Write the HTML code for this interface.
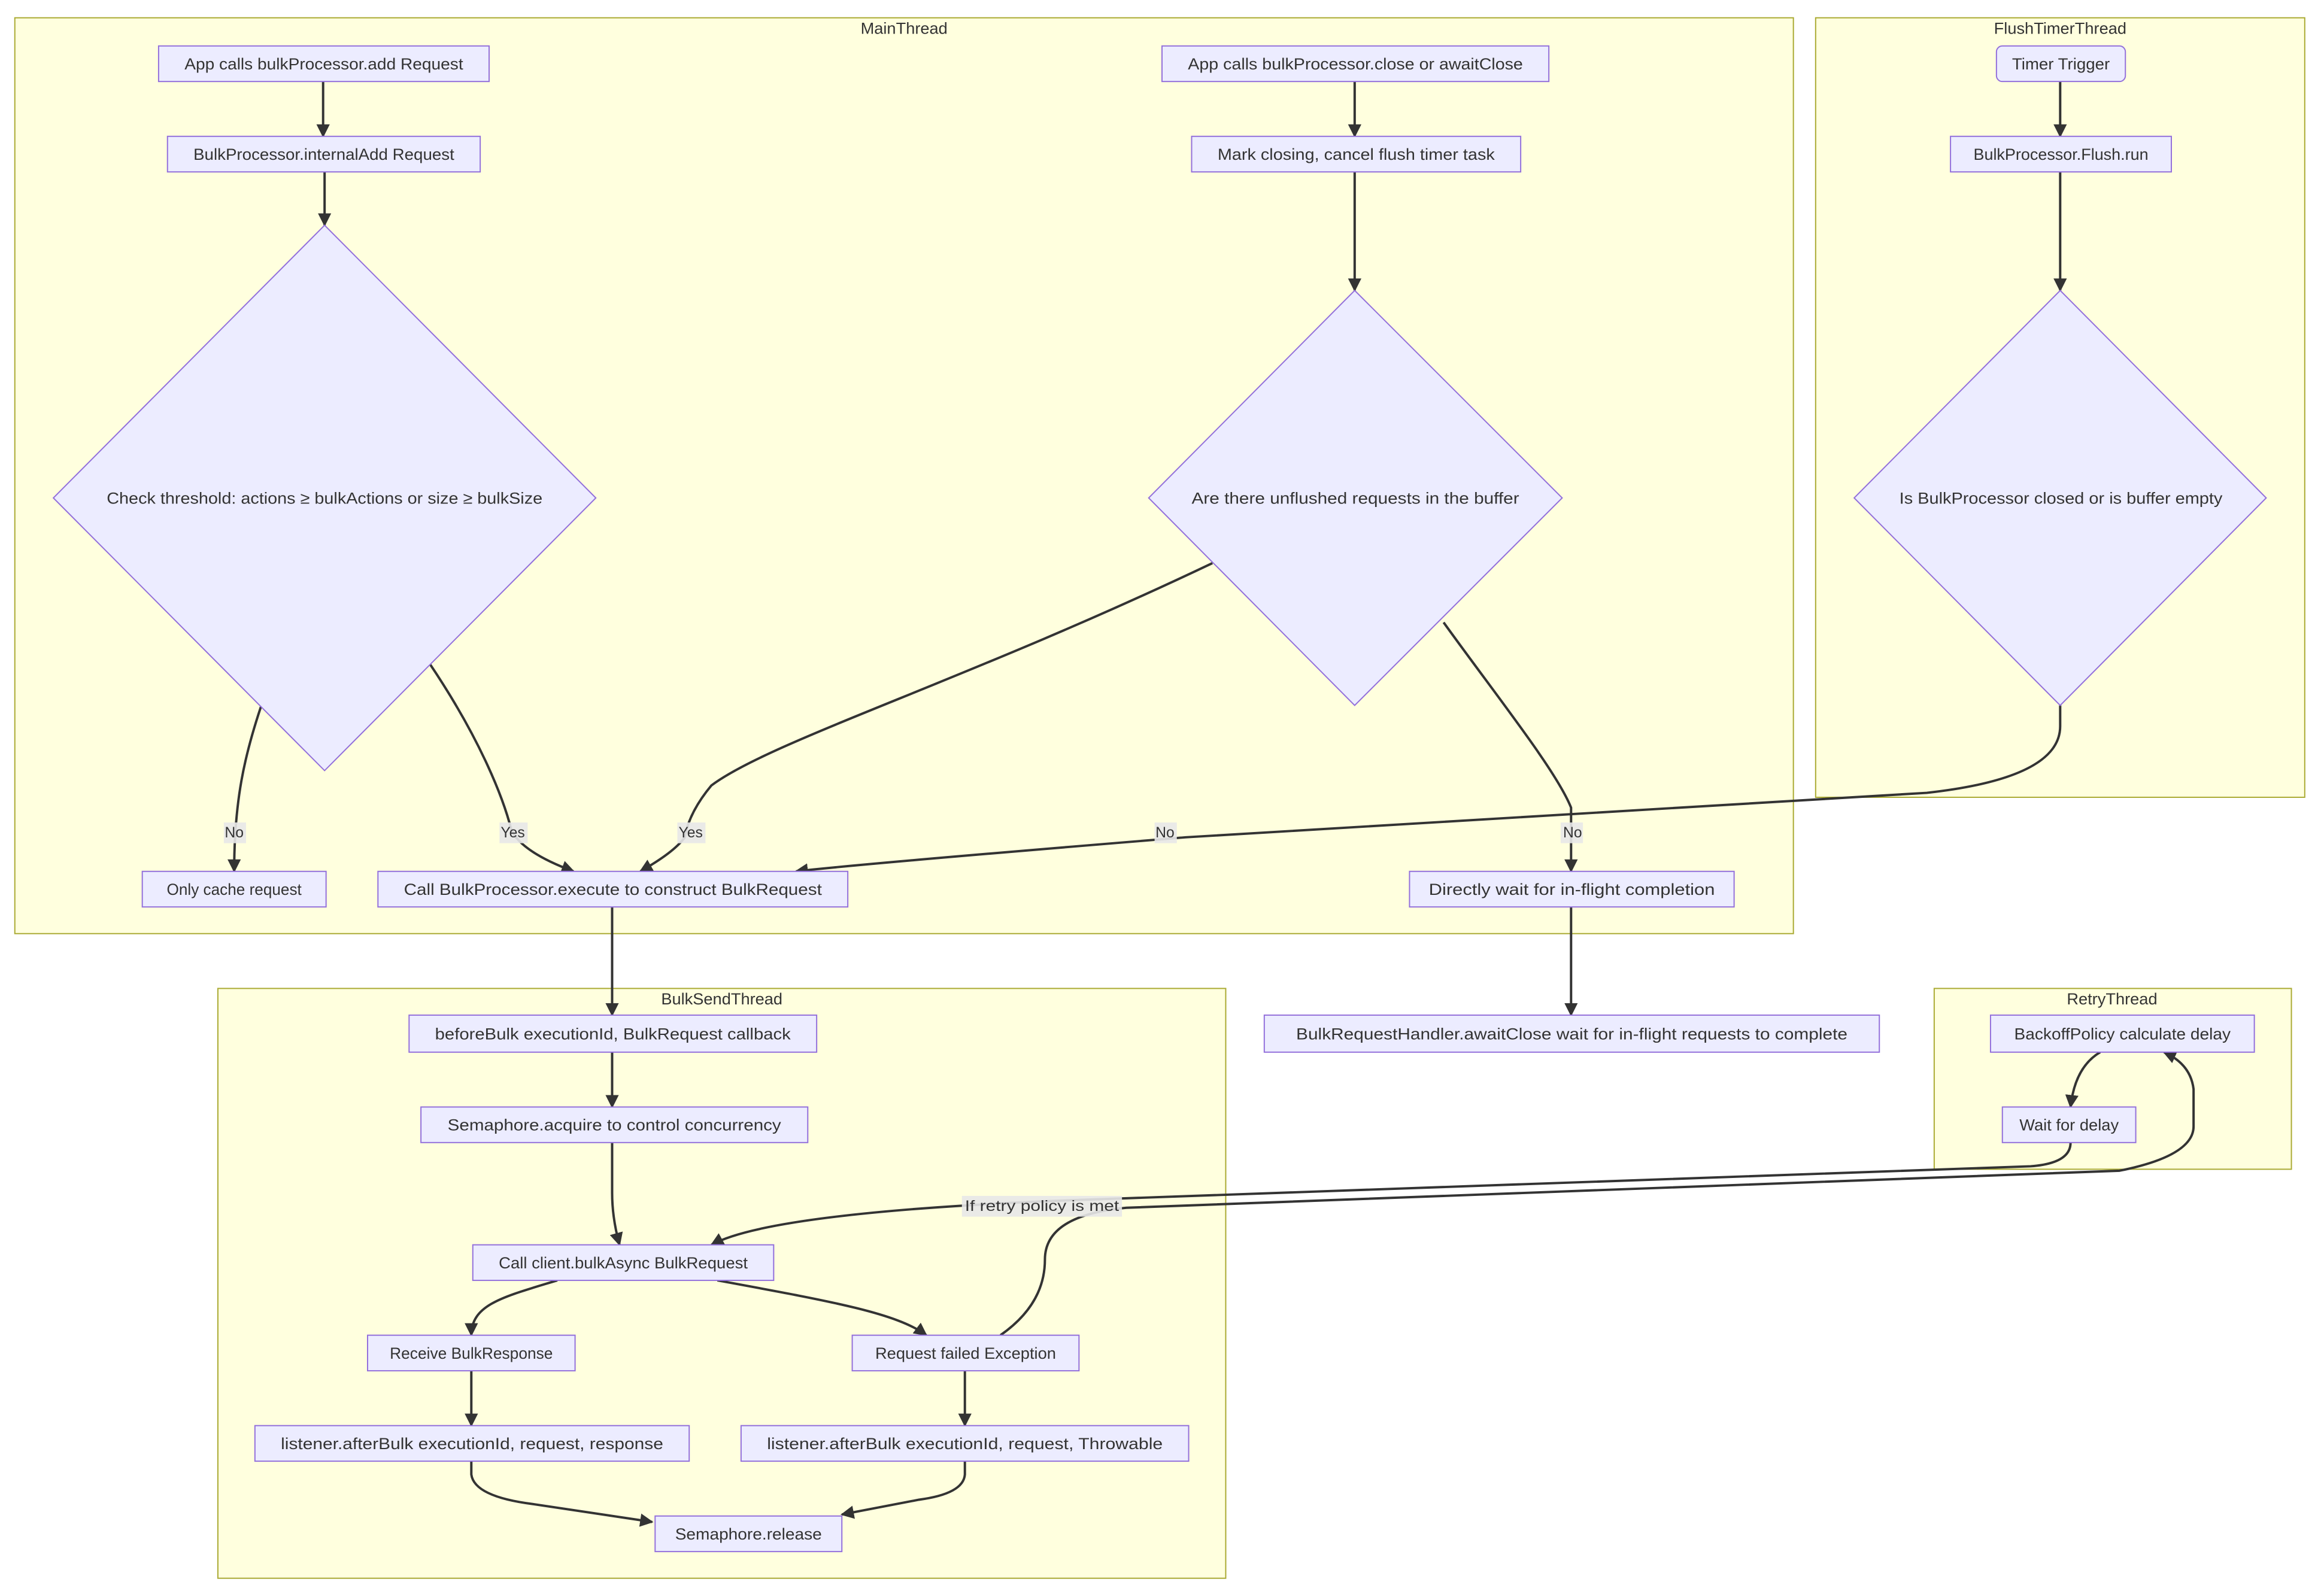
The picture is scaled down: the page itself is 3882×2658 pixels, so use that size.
<!DOCTYPE html>
<html><head><meta charset="utf-8"><style>
html,body{margin:0;padding:0;background:#fff;}
svg{display:block;}
text{font-family:"Liberation Sans",sans-serif;fill:#333;}
.c{fill:#ffffde;stroke:#aaaa33;stroke-width:0.8;}
.n{fill:#ECECFF;stroke:#9370DB;stroke-width:0.8;}
.e{fill:none;stroke:#333;stroke-width:1.6;}
.t{font-size:11px;text-anchor:middle;dominant-baseline:central;}
.lb{fill:#e8e8e8;opacity:0.9;}
</style></head><body>
<svg width="3882" height="2658" viewBox="0 0 1568 1073.6" xmlns="http://www.w3.org/2000/svg">
<defs><marker id="a" viewBox="0 0 10 10" refX="9" refY="5" markerWidth="9" markerHeight="9" markerUnits="userSpaceOnUse" orient="auto"><path d="M0,0 L10,5 L0,10 z" fill="#333"/></marker></defs>
<rect class="c" x="10" y="12" width="1200" height="618"/>
<text class="t" x="610" y="19">MainThread</text>
<rect class="c" x="1225" y="12" width="330" height="526"/>
<text class="t" x="1390" y="19">FlushTimerThread</text>
<rect class="c" x="147" y="667" width="680" height="398"/>
<text class="t" x="487" y="674">BulkSendThread</text>
<rect class="c" x="1305" y="667" width="241" height="122"/>
<text class="t" x="1425" y="674">RetryThread</text>

<g>
<path class="e" marker-end="url(#a)" d="M218,55 L218,92"/>
<path class="e" marker-end="url(#a)" d="M219,116 L219,152"/>
<path class="e" marker-end="url(#a)" d="M176,477 C165,510 158,540 158,588"/>
<path class="e" marker-end="url(#a)" d="M290,448 C325,500 340,540 345,560 Q352,575 387,588"/>
<path class="e" marker-end="url(#a)" d="M818,380 C650,460 520,500 480,530 Q465,548 462,565 Q455,575 432,588"/>
<path class="e" marker-end="url(#a)" d="M974,420 C1010,470 1050,520 1060,545 L1060,588"/>
<path class="e" marker-end="url(#a)" d="M1390,476 L1390,490 Q1390,525 1300,535 L800,565 Q580,583 537,588"/>
<path class="e" marker-end="url(#a)" d="M914,55 L914,92"/>
<path class="e" marker-end="url(#a)" d="M914,116 L914,196"/>
<path class="e" marker-end="url(#a)" d="M1390,55 L1390,92"/>
<path class="e" marker-end="url(#a)" d="M1390,116 L1390,196"/>
<path class="e" marker-end="url(#a)" d="M413,612 L413,685"/>
<path class="e" marker-end="url(#a)" d="M1060,612 L1060,685"/>
<path class="e" marker-end="url(#a)" d="M413,710 L413,747"/>
<path class="e" marker-end="url(#a)" d="M413,771 L413,805 Q413,822 418,840"/>
<path class="e" marker-end="url(#a)" d="M376,864 C340,875 318,880 318,901"/>
<path class="e" marker-end="url(#a)" d="M484,864 C560,878 605,886 625,901"/>
<path class="e" marker-end="url(#a)" d="M318,925 L318,962"/>
<path class="e" marker-end="url(#a)" d="M651,925 L651,962"/>
<path class="e" marker-end="url(#a)" d="M318,986 L318,995 Q320,1010 360,1015 L440,1027"/>
<path class="e" marker-end="url(#a)" d="M651,986 L651,995 Q650,1008 620,1012 L568,1022"/>
<path class="e" marker-end="url(#a)" d="M1417,710 Q1400,720 1397,747"/>
<path class="e" marker-end="url(#a)" d="M1397,771 Q1397,785 1370,787 L720,810 Q520,818 480,840"/>
<path class="e" marker-end="url(#a)" d="M675,901 Q705,880 705,850 Q705,820 760,815 L1430,790 Q1480,780 1480,760 L1480,735 Q1478,718 1460,710"/>
</g>

<g>
<rect class="lb" x="151" y="555" width="15" height="14"/><text class="t" style="font-size:10px" x="158" y="562">No</text>
<rect class="lb" x="337" y="555" width="19" height="14"/><text class="t" style="font-size:10px" x="346" y="562">Yes</text>
<rect class="lb" x="457" y="555" width="19" height="14"/><text class="t" style="font-size:10px" x="466" y="562">Yes</text>
<rect class="lb" x="779" y="555" width="15" height="14"/><text class="t" style="font-size:10px" x="786" y="562">No</text>
<rect class="lb" x="1053" y="555" width="15" height="14"/><text class="t" style="font-size:10px" x="1061" y="562">No</text>
<rect class="lb" x="649" y="807" width="108" height="14"/><text class="t" style="font-size:10px" x="703" y="814" textLength="104" lengthAdjust="spacingAndGlyphs">If retry policy is met</text>
</g>

<g>
<rect class="n" x="107" y="31" width="223" height="24"/><text class="t" x="218.5" y="43" textLength="188" lengthAdjust="spacingAndGlyphs">App calls bulkProcessor.add Request</text>
<rect class="n" x="113" y="92" width="211" height="24"/><text class="t" x="218.5" y="104" textLength="176" lengthAdjust="spacingAndGlyphs">BulkProcessor.internalAdd Request</text>
<polygon class="n" points="219,152 402,336 219,520 36,336"/><text class="t" x="219" y="336" textLength="294" lengthAdjust="spacingAndGlyphs">Check threshold: actions ≥ bulkActions or size ≥ bulkSize</text>
<rect class="n" x="784" y="31" width="261" height="24"/><text class="t" x="914.5" y="43" textLength="226" lengthAdjust="spacingAndGlyphs">App calls bulkProcessor.close or awaitClose</text>
<rect class="n" x="804" y="92" width="222" height="24"/><text class="t" x="915" y="104" textLength="187" lengthAdjust="spacingAndGlyphs">Mark closing, cancel flush timer task</text>
<polygon class="n" points="914,196 1054,336 914,476 775,336"/><text class="t" x="914.5" y="336" textLength="221" lengthAdjust="spacingAndGlyphs">Are there unflushed requests in the buffer</text>
<rect class="n" x="1347" y="31" width="87" height="24" rx="4"/><text class="t" x="1390.5" y="43" textLength="66" lengthAdjust="spacingAndGlyphs">Timer Trigger</text>
<rect class="n" x="1316" y="92" width="149" height="24"/><text class="t" x="1390.5" y="104" textLength="118" lengthAdjust="spacingAndGlyphs">BulkProcessor.Flush.run</text>
<polygon class="n" points="1390,196 1529,336 1390,476 1251,336"/><text class="t" x="1390.5" y="336" textLength="218" lengthAdjust="spacingAndGlyphs">Is BulkProcessor closed or is buffer empty</text>
<rect class="n" x="96" y="588" width="124" height="24"/><text class="t" x="158" y="600" textLength="91" lengthAdjust="spacingAndGlyphs">Only cache request</text>
<rect class="n" x="255" y="588" width="317" height="24"/><text class="t" x="413.5" y="600" textLength="282" lengthAdjust="spacingAndGlyphs">Call BulkProcessor.execute to construct BulkRequest</text>
<rect class="n" x="951" y="588" width="219" height="24"/><text class="t" x="1060.5" y="600" textLength="193" lengthAdjust="spacingAndGlyphs">Directly wait for in-flight completion</text>
<rect class="n" x="853" y="685" width="415" height="25"/><text class="t" x="1060.5" y="697.5" textLength="372" lengthAdjust="spacingAndGlyphs">BulkRequestHandler.awaitClose wait for in-flight requests to complete</text>
<rect class="n" x="276" y="685" width="275" height="25"/><text class="t" x="413.5" y="697.5" textLength="240" lengthAdjust="spacingAndGlyphs">beforeBulk executionId, BulkRequest callback</text>
<rect class="n" x="284" y="747" width="261" height="24"/><text class="t" x="414.5" y="759" textLength="225" lengthAdjust="spacingAndGlyphs">Semaphore.acquire to control concurrency</text>
<rect class="n" x="319" y="840" width="203" height="24"/><text class="t" x="420.5" y="852" textLength="168" lengthAdjust="spacingAndGlyphs">Call client.bulkAsync BulkRequest</text>
<rect class="n" x="248" y="901" width="140" height="24"/><text class="t" x="318" y="913" textLength="110" lengthAdjust="spacingAndGlyphs">Receive BulkResponse</text>
<rect class="n" x="575" y="901" width="153" height="24"/><text class="t" x="651.5" y="913" textLength="122" lengthAdjust="spacingAndGlyphs">Request failed Exception</text>
<rect class="n" x="172" y="962" width="293" height="24"/><text class="t" x="318.5" y="974" textLength="258" lengthAdjust="spacingAndGlyphs">listener.afterBulk executionId, request, response</text>
<rect class="n" x="500" y="962" width="302" height="24"/><text class="t" x="651" y="974" textLength="267" lengthAdjust="spacingAndGlyphs">listener.afterBulk executionId, request, Throwable</text>
<rect class="n" x="442" y="1023" width="126" height="24"/><text class="t" x="505" y="1035" textLength="99" lengthAdjust="spacingAndGlyphs">Semaphore.release</text>
<rect class="n" x="1343" y="685" width="178" height="25"/><text class="t" x="1432" y="697.5" textLength="146" lengthAdjust="spacingAndGlyphs">BackoffPolicy calculate delay</text>
<rect class="n" x="1351" y="747" width="90" height="24"/><text class="t" x="1396" y="759" textLength="67" lengthAdjust="spacingAndGlyphs">Wait for delay</text>
</g>
</svg>
</body></html>
